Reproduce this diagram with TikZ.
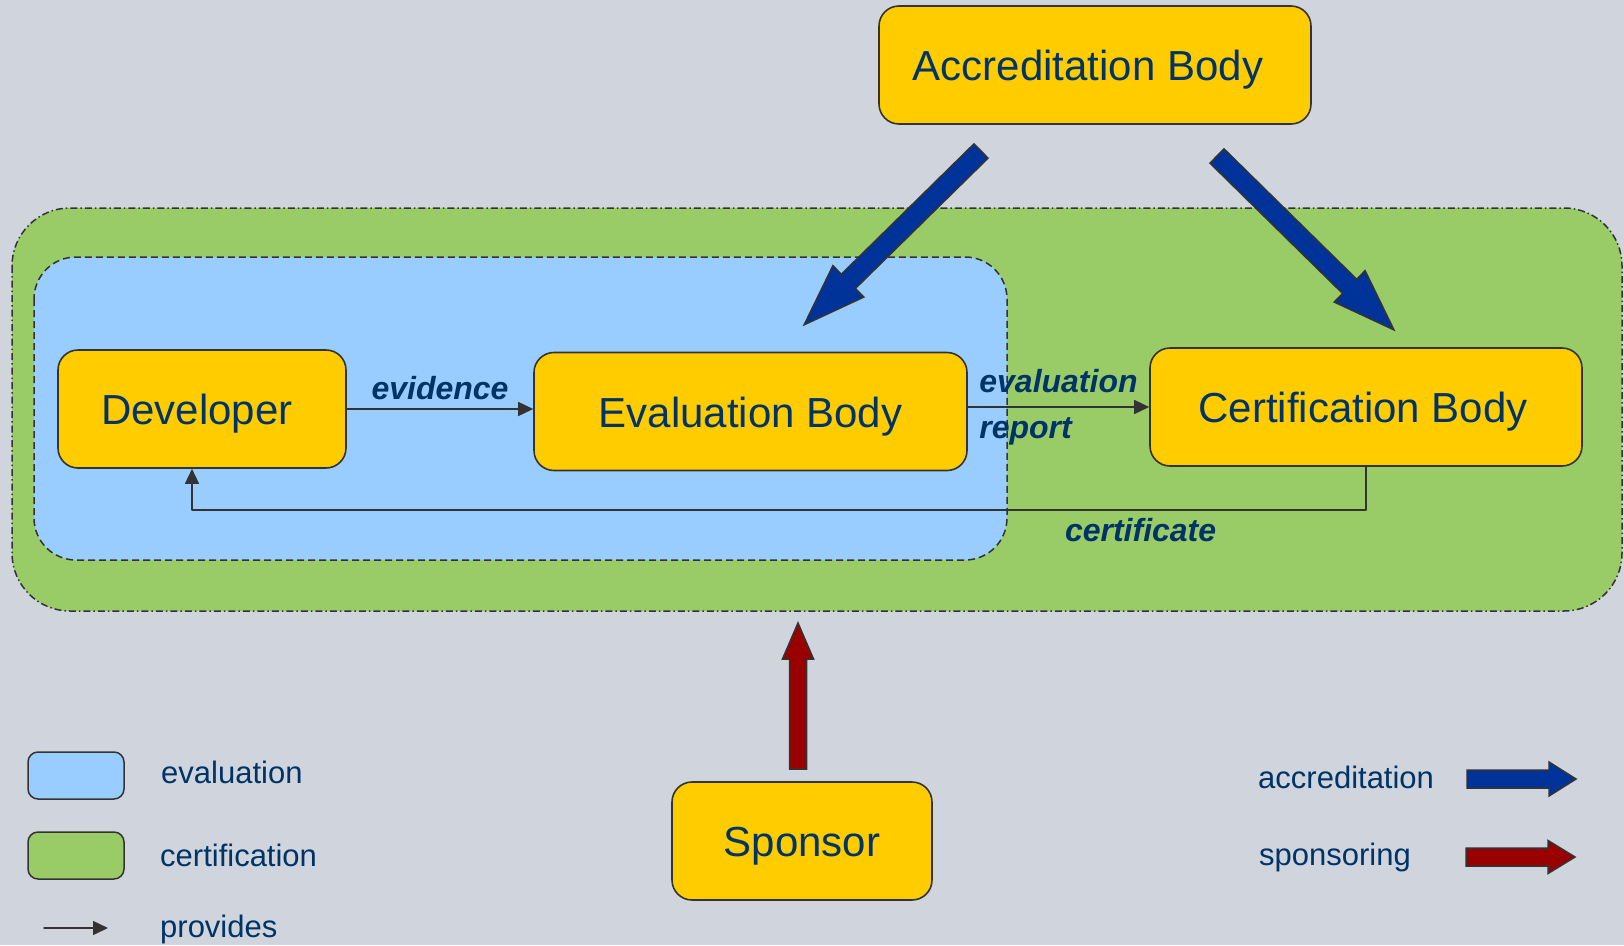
\documentclass[tikz,border=0pt]{standalone}
\usepackage{fontspec}
\setmainfont{Liberation Sans}
\usetikzlibrary{arrows.meta}

\definecolor{bggray}{RGB}{208,212,220}
\definecolor{certgreen}{RGB}{153,204,102}
\definecolor{evalblue}{RGB}{153,204,255}
\definecolor{bodyyellow}{RGB}{255,204,0}
\definecolor{navy}{RGB}{0,51,102}
\definecolor{accblue}{RGB}{0,51,153}
\definecolor{sponred}{RGB}{153,0,0}
\definecolor{edgegray}{RGB}{51,51,51}

\tikzset{
  party/.style={draw=edgegray, line width=1.6pt, fill=bodyyellow, rounded corners=20pt,
    minimum height=118pt, inner sep=0pt, text height=31pt, text depth=0pt, text=navy,
    font=\fontsize{42}{50}\selectfont},
  flowlabel/.style={text=navy, inner sep=0pt, font=\fontsize{32}{46}\selectfont\bfseries\itshape},
  legendtext/.style={text=navy, inner sep=0pt, anchor=base west, font=\fontsize{31}{37}\selectfont},
  legendbox/.style={draw=edgegray, line width=1.5pt, rounded corners=10pt, minimum width=96pt, minimum height=47pt},
  provides/.style={draw=edgegray, line width=1.5pt, -{Triangle[length=15pt,width=14pt]}},
  blockedge/.style={draw=edgegray, line width=1.5pt, line join=miter},
}

% tail, angle, length, shaft half width, head half width, head length, colour
\newcommand{\blockarrow}[7]{%
  \begin{scope}[shift={#1}, rotate=#2]
    \filldraw[blockedge, fill=#7] (0,-#4) -- ({#3-#6},-#4) -- ({#3-#6},-#5) -- (#3,0)
      -- ({#3-#6},#5) -- ({#3-#6},#4) -- (0,#4) -- cycle;
  \end{scope}}

\begin{document}
\begin{tikzpicture}[x=1pt, y=-1pt, line join=round, line cap=round]
  \useasboundingbox (0,0) rectangle (1624,945);
  \fill[bggray] (0,0) rectangle (1624,945);

  % certification and evaluation areas
  \draw[fill=certgreen, draw=edgegray, line width=1.5pt, line cap=butt, dash pattern=on 7pt off 3pt on 1.5pt off 3pt, rounded corners=58pt] (12,208) rectangle (1622,611);
  \draw[fill=evalblue, draw=edgegray, line width=1.5pt, line cap=butt, dash pattern=on 7pt off 4pt, rounded corners=42pt] (34,257) rectangle (1007,560);

  \node[party, minimum width=432pt] (acc) at (1095,65) {Accreditation Body\hspace*{14pt}};
  \node[party, minimum width=288pt] (dev) at (202,409) {Developer\hspace*{10pt}};
  \node[party, minimum width=433pt] (eval) at (750.5,411.5) {Evaluation Body};
  \node[party, minimum width=432pt] (cert) at (1366,407) {Certification Body\hspace*{6pt}};
  \node[party, minimum width=260pt] (spon) at (802,841) {Sponsor};

  \draw[provides] (dev.east) -- (dev.east -| eval.west) node[flowlabel, midway, above=8pt] {evidence};
  \draw[provides] (eval.east |- cert.west) -- (cert.west) node[flowlabel, midway, align=left] {evaluation\\report};
  \draw[provides] (cert.south) -- ++(0,43) -| ([xshift=-10pt]dev.south) node[flowlabel, pos=0.096, below=8pt] {certificate};

  % accreditation and sponsoring
  \blockarrow{(981,151)}{-135.5}{248}{10}{22}{62}{accblue}
  \blockarrow{(1217,156)}{-44.5}{248}{10}{22}{62}{accblue}
  \blockarrow{(798,769)}{90}{146}{8.5}{15.5}{36}{sponred}

  % legend
  \node[legendbox, fill=evalblue] (legeval) at (76,775.5) {};
  \node[legendtext] (legevaltext) at (161,783) {evaluation};
  \node[legendbox, fill=certgreen] (legcert) at (76,855.5) {};
  \node[legendtext] (legcerttext) at (160,866) {certification};
  \coordinate (provtail) at (44,928);
  \coordinate (provhead) at (108,928);
  \draw[provides] (provtail) -- (provhead);
  \node[legendtext] (legprovtext) at (160,937) {provides};

  \node[legendtext] (legacctext) at (1258,788) {accreditation};
  \blockarrow{(1467,779)}{0}{109}{9}{17}{27}{accblue}
  \node[legendtext] (legspontext) at (1259,865) {sponsoring};
  \blockarrow{(1466,857)}{0}{109}{9}{16.5}{27}{sponred}
\end{tikzpicture}
\end{document}
